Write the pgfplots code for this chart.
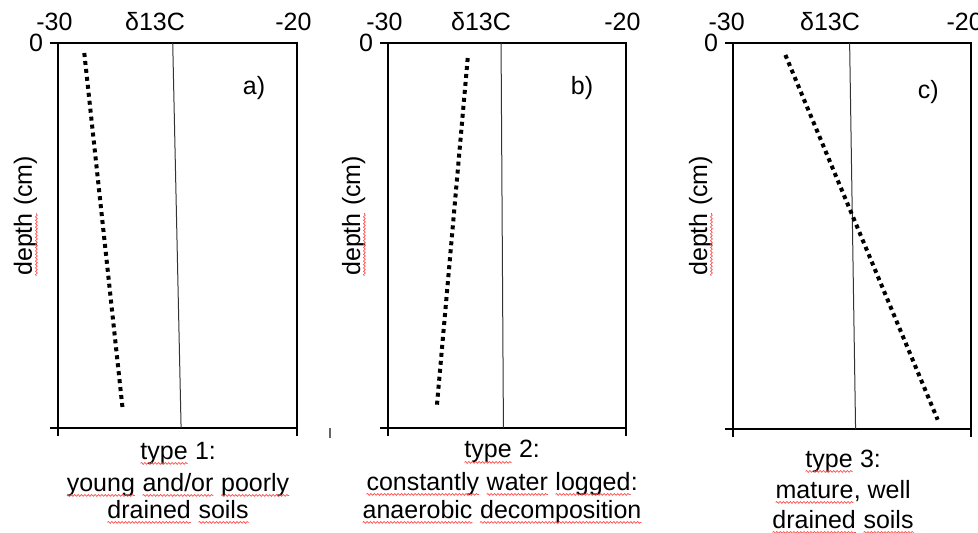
\documentclass[border=0pt]{standalone}
\usepackage{pgfplots}
\pgfplotsset{compat=1.18}
\usepackage{fontspec}
\setmainfont{Liberation Sans}
\usetikzlibrary{decorations.pathmorphing}

% red spell-check squiggle under a word
\newcommand\sq[1]{\tikz[baseline=(w.base)]{%
  \node[inner sep=0pt, outer sep=0pt, anchor=base, rotate=0] (w) {#1};
  \draw[red!70, line width=0.35pt, decorate,
        decoration={snake, amplitude=0.45pt, segment length=1.7pt}]
    ([yshift=-2.2pt]w.base west) -- ([yshift=-2.2pt]w.base east);}}

\newcommand\lbl{\fontsize{12.5}{15}\selectfont}

\pgfplotsset{
  panel/.style={
    scale only axis,
    width=119.5pt, height=192.5pt,
    anchor=north west,
    xmin=-30, xmax=-20, ymin=0, ymax=100,
    y dir=reverse,
    xtick={-30,-20}, xticklabels={-30,-20},
    xtick pos=left, xticklabel pos=right,
    xticklabel style={xshift=-1.8pt, yshift=-1.2pt},
    ytick={0,100}, yticklabels={0,{}},
    ytick pos=left,
    tick align=outside,
    major tick length=4pt,
    axis line style={line width=1.3pt},
    every tick/.style={black, line width=0.8pt},
    tick label style={font=\lbl},
    clip=false,
  },
  soil/.style={black, line width=2pt, dash pattern=on 2pt off 2pt},
  ref/.style={black!80, line width=0.5pt},
}

\begin{document}
\begin{tikzpicture}
\path[use as bounding box] (0,0) rectangle (489pt,-266.5pt);

% ---- a)
\begin{axis}[panel, at={(29pt,-21.5pt)}]
  \addplot[ref] coordinates {(-25.2,0) (-24.85,100)};
  \addplot[soil] coordinates {(-28.9,2.6) (-27.3,94.8)};
  \node[font=\lbl] at (axis cs:-21.8,11.7) {a)};
\end{axis}

% ---- b)
\begin{axis}[panel, width=119pt, at={(194pt,-21.5pt)}]
  \addplot[ref] coordinates {(-25.25,0) (-25.15,100)};
  \addplot[soil] coordinates {(-26.65,3.9) (-27.95,94.5)};
  \node[font=\lbl] at (axis cs:-21.85,11.7) {b)};
\end{axis}

% ---- c)
\begin{axis}[panel, width=119pt, height=193pt, at={(366.5pt,-21.5pt)},
  xticklabel style={xshift=-1.4pt}]
  \addplot[ref] coordinates {(-25.1,0) (-24.85,100)};
  \addplot[soil] coordinates {(-27.8,3.1) (-21.4,97.6)};
  \node[font=\lbl] at (axis cs:-21.8,12.7) {c)};
\end{axis}

% axis titles
\foreach \x in {77.5,240.5,415}
  \node[font=\lbl, anchor=base] at (\x pt,-15.5pt) {δ13C};
\foreach \x in {16,180,353.5}
  \node[font=\lbl, anchor=base, rotate=90] at (\x pt,-108pt) {\sq{depth} (cm)};

% captions
\node[font=\lbl, anchor=base] at (89pt,-229.5pt) {\sq{type} 1:};
\node[font=\lbl, anchor=base] at (89pt,-245.5pt) {\sq{young} \sq{and/or} \sq{poorly}};
\node[font=\lbl, anchor=base] at (89pt,-259pt) {\sq{drained} \sq{soils}};

\node[font=\lbl, anchor=base] at (251pt,-229pt) {\sq{type} 2:};
\node[font=\lbl, anchor=base] at (251pt,-245pt) {\sq{constantly} \sq{water} \sq{logged}:};
\node[font=\lbl, anchor=base] at (251pt,-259pt) {\sq{anaerobic} \sq{decomposition}};

\node[font=\lbl, anchor=base] at (421.5pt,-233.5pt) {\sq{type} 3:};
\node[font=\lbl, anchor=base] at (421.5pt,-249pt) {\sq{mature}, well};
\node[font=\lbl, anchor=base] at (421.5pt,-264pt) {\sq{drained} \sq{soils}};

% stray mark below the first panel
\draw[black!60, line width=0.6pt] (165pt,-214pt) -- (165pt,-219pt);
\end{tikzpicture}
\end{document}
